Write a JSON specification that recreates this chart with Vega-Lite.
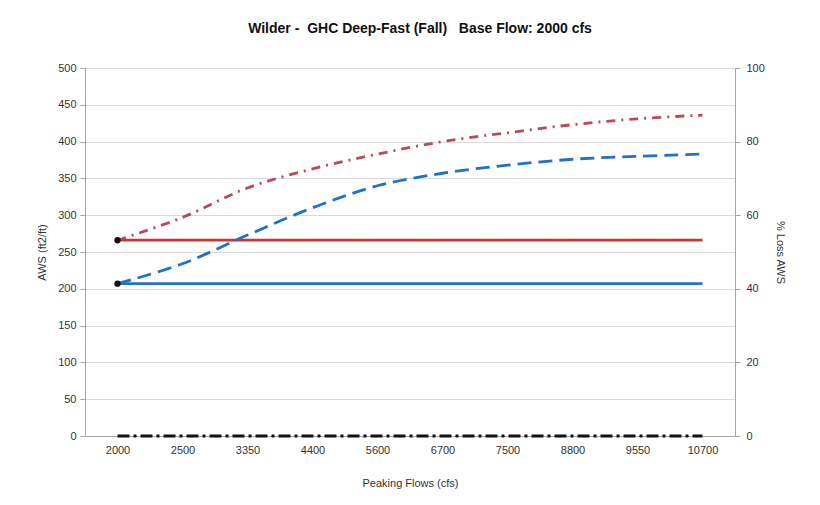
{
  "$schema": "https://vega.github.io/schema/vega-lite/v6.json",
  "width": 650,
  "height": 368,
  "autosize": {"type": "none"},
  "padding": {"left": 85, "top": 68, "right": 85, "bottom": 69},
  "background": "white",
  "title": {
    "text": "Wilder -\u00a0 GHC Deep-Fast (Fall) \u00a0\u00a0Base Flow: 2000 cfs",
    "font": "Liberation Sans",
    "fontSize": 14,
    "fontWeight": "bold",
    "color": "#111",
    "offset": 26,
    "dx": 10
  },
  "config": {
    "view": {"stroke": null},
    "font": "Liberation Sans",
    "axis": {
      "labelFont": "Liberation Sans",
      "titleFont": "Liberation Sans",
      "labelFontSize": 11,
      "titleFontSize": 11,
      "labelColor": "#333",
      "titleColor": "#333",
      "titleFontWeight": "normal",
      "domainColor": "#a6a6a6",
      "tickColor": "#a6a6a6",
      "gridColor": "#d9d9d9",
      "labelOverlap": false
    }
  },
  "datasets": {
    "aws": [
      {"flow": "2000", "series": "Base Red", "value": 266},
      {"flow": "2500", "series": "Base Red", "value": 266},
      {"flow": "3350", "series": "Base Red", "value": 266},
      {"flow": "4400", "series": "Base Red", "value": 266},
      {"flow": "5600", "series": "Base Red", "value": 266},
      {"flow": "6700", "series": "Base Red", "value": 266},
      {"flow": "7500", "series": "Base Red", "value": 266},
      {"flow": "8800", "series": "Base Red", "value": 266},
      {"flow": "9550", "series": "Base Red", "value": 266},
      {"flow": "10700", "series": "Base Red", "value": 266},
      {"flow": "2000", "series": "Base Blue", "value": 207},
      {"flow": "2500", "series": "Base Blue", "value": 207},
      {"flow": "3350", "series": "Base Blue", "value": 207},
      {"flow": "4400", "series": "Base Blue", "value": 207},
      {"flow": "5600", "series": "Base Blue", "value": 207},
      {"flow": "6700", "series": "Base Blue", "value": 207},
      {"flow": "7500", "series": "Base Blue", "value": 207},
      {"flow": "8800", "series": "Base Blue", "value": 207},
      {"flow": "9550", "series": "Base Blue", "value": 207},
      {"flow": "10700", "series": "Base Blue", "value": 207},
      {"flow": "2000", "series": "Peak Red", "value": 266},
      {"flow": "2500", "series": "Peak Red", "value": 297},
      {"flow": "3350", "series": "Peak Red", "value": 337},
      {"flow": "4400", "series": "Peak Red", "value": 363},
      {"flow": "5600", "series": "Peak Red", "value": 383},
      {"flow": "6700", "series": "Peak Red", "value": 400},
      {"flow": "7500", "series": "Peak Red", "value": 412},
      {"flow": "8800", "series": "Peak Red", "value": 423},
      {"flow": "9550", "series": "Peak Red", "value": 431},
      {"flow": "10700", "series": "Peak Red", "value": 436},
      {"flow": "2000", "series": "Peak Blue", "value": 207},
      {"flow": "2500", "series": "Peak Blue", "value": 234},
      {"flow": "3350", "series": "Peak Blue", "value": 273},
      {"flow": "4400", "series": "Peak Blue", "value": 310},
      {"flow": "5600", "series": "Peak Blue", "value": 340},
      {"flow": "6700", "series": "Peak Blue", "value": 357},
      {"flow": "7500", "series": "Peak Blue", "value": 368},
      {"flow": "8800", "series": "Peak Blue", "value": 376},
      {"flow": "9550", "series": "Peak Blue", "value": 380},
      {"flow": "10700", "series": "Peak Blue", "value": 383}
    ],
    "start": [
      {"flow": "2000", "series": "Base Red", "value": 266},
      {"flow": "2000", "series": "Base Blue", "value": 207}
    ],
    "loss": [
      {"flow": "2000", "value": 0},
      {"flow": "2500", "value": 0},
      {"flow": "3350", "value": 0},
      {"flow": "4400", "value": 0},
      {"flow": "5600", "value": 0},
      {"flow": "6700", "value": 0},
      {"flow": "7500", "value": 0},
      {"flow": "8800", "value": 0},
      {"flow": "9550", "value": 0},
      {"flow": "10700", "value": 0}
    ]
  },
  "encoding": {
    "x": {
      "field": "flow",
      "type": "ordinal",
      "sort": ["2000", "2500", "3350", "4400", "5600", "6700", "7500", "8800", "9550", "10700"],
      "scale": {"type": "point", "padding": 0.5},
      "axis": {
        "title": "Peaking Flows (cfs)",
        "titlePadding": 22,
        "labelAngle": 0,
        "labelPadding": 8,
        "ticks": false,
        "domainColor": "#a6a6a6"
      }
    }
  },
  "layer": [
    {
      "encoding": {
        "y": {
          "field": "value",
          "type": "quantitative",
          "scale": {"domain": [0, 500], "nice": false},
          "axis": {
            "title": "AWS (ft2/ft)",
            "values": [0, 50, 100, 150, 200, 250, 300, 350, 400, 450, 500],
            "grid": true,
            "titlePadding": 10,
            "tickSize": 5,
            "labelPadding": 4
          }
        }
      },
      "layer": [
        {
          "data": {"name": "aws"},
          "mark": {"type": "line", "interpolate": "catmull-rom", "strokeWidth": 2.8},
          "encoding": {
            "color": {
              "field": "series",
              "type": "nominal",
              "scale": {
                "domain": ["Base Red", "Base Blue", "Peak Red", "Peak Blue"],
                "range": ["#cc3333", "#1f72c4", "#b84a5c", "#1f72c4"]
              },
              "legend": null
            },
            "strokeDash": {
              "field": "series",
              "type": "nominal",
              "scale": {
                "domain": ["Base Red", "Base Blue", "Peak Red", "Peak Blue"],
                "range": [[1, 0], [1, 0], [9, 6, 2, 6], [14, 7]]
              },
              "legend": null
            }
          }
        },
        {
          "data": {"name": "start"},
          "mark": {"type": "point", "filled": true, "size": 40, "opacity": 1},
          "encoding": {
            "color": {"value": "#111"}
          }
        }
      ]
    },
    {
      "data": {"name": "loss"},
      "mark": {"type": "line", "strokeWidth": 3, "strokeDash": [12, 4, 3, 4], "color": "#111"},
      "encoding": {
        "y": {
          "field": "value",
          "type": "quantitative",
          "scale": {"domain": [0, 100], "nice": false},
          "axis": {
            "orient": "right",
            "title": "% Loss AWS",
            "values": [0, 20, 40, 60, 80, 100],
            "grid": false,
            "titlePadding": 10,
            "tickSize": 5,
            "labelPadding": 6
          }
        }
      }
    }
  ],
  "resolve": {"scale": {"y": "independent"}}
}
